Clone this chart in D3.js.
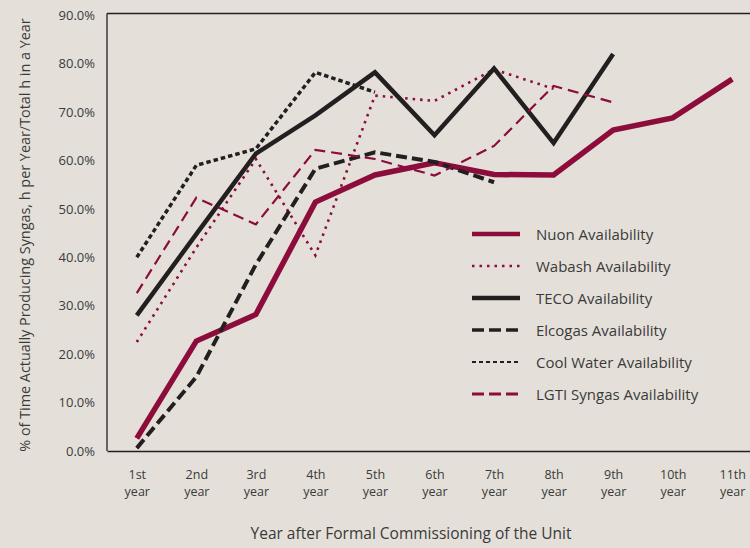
<!DOCTYPE html>
<html>
<head>
<meta charset="utf-8">
<script src="https://cdn.jsdelivr.net/npm/d3@7"></script>
<style>
  html, body { margin: 0; padding: 0; background: #e4e0d9; }
  #chart { width: 750px; height: 548px; }
  text { font-family: 'Open Sans', sans-serif; fill: #3a3a3a; }
</style>
</head>
<body>
<div id="chart"></div>
<script>
// values (% availability per year after commissioning)
var years = ['1st', '2nd', '3rd', '4th', '5th', '6th', '7th', '8th', '9th', '10th', '11th'];
var yTicks = [0, 10, 20, 30, 40, 50, 60, 70, 80, 90];

var nuon = [2.6, 22.7, 28.2, 51.4, 57.0, 59.5, 57.1, 57.0, 66.3, 68.8, 76.8];
var wabash = [22.5, 42.0, 60.3, 40.4, 73.4, 72.3, 78.8, 74.8];
var teco = [28.0, 44.8, 61.4, 69.3, 78.2, 65.2, 79.0, 63.6, 82.0];
var elcogas = [0.6, 15.3, 38.5, 58.3, 61.7, 59.7, 55.5];
var coolWater = [40.0, 59.0, 62.4, 78.2, 74.1];
var lgti = [32.6, 52.3, 46.8, 62.2, 60.3, 56.9, 63.0, 75.4, 72.0];

var names = ['Nuon Availability', 'Wabash Availability', 'TECO Availability',
  'Elcogas Availability', 'Cool Water Availability', 'LGTI Syngas Availability'];
var values = [nuon, wabash, teco, elcogas, coolWater, lgti];

var crimson = '#8c0c3c';
var dark = '#231f20';

// line styles, same order as names
var styles = [
  { color: crimson, width: 5.5, dash: null, legendWidth: 4.5, legendDash: null },
  { color: crimson, width: 2.6, dash: '2.5,5', legendWidth: 2.4, legendDash: '2.5,5' },
  { color: dark, width: 4.5, dash: null, legendWidth: 4.5, legendDash: null },
  { color: dark, width: 4, dash: '11,5', legendWidth: 3.5, legendDash: '12,5' },
  { color: dark, width: 3.5, dash: '4.5,3', legendWidth: 2.2, legendDash: '4,3' },
  { color: crimson, width: 2.2, dash: '11,6', legendWidth: 3, legendDash: '12,5' }
];

var series = names.map(function(name, i) {
  return {
    name: name,
    style: styles[i],
    points: values[i].map(function(v, j) { return { year: years[j], value: v }; })
  };
});

var margin = { top: 13.5, left: 107, bottom: 97 };
var W = 750, H = 548;
var plotRight = 762;

var svg = d3.select('#chart').append('svg')
  .attr('width', W)
  .attr('height', H);

var x = d3.scalePoint()
  .domain(years)
  .range([margin.left, plotRight])
  .padding(0.5);

var y = d3.scaleLinear()
  .domain([0, 90])
  .range([H - margin.bottom, 15.2]);

// frame: top line
svg.append('line')
  .attr('x1', margin.left).attr('x2', plotRight)
  .attr('y1', margin.top).attr('y2', margin.top)
  .attr('stroke', dark).attr('stroke-width', 1.3);

// y axis
var yAxis = svg.append('g')
  .attr('transform', 'translate(' + margin.left + ',0)')
  .call(d3.axisLeft(y).tickValues(yTicks).tickSize(0).tickSizeOuter(0).tickPadding(12)
    .tickFormat(function(d) { return d.toFixed(1) + '%'; }));
yAxis.select('.domain')
  .attr('d', 'M0,' + margin.top + 'V' + y(0))
  .attr('stroke', dark).attr('stroke-width', 1.3);
yAxis.selectAll('text')
  .style('font-family', "'Open Sans', sans-serif")
  .style('font-size', '13px')
  .attr('fill', '#3a3a3a');

// x axis: ordinal on first line, "year" below it
var xAxis = svg.append('g')
  .attr('transform', 'translate(0,' + y(0) + ')')
  .call(d3.axisBottom(x).tickSize(0).tickSizeOuter(0));
xAxis.select('.domain').attr('stroke', dark).attr('stroke-width', 1.3);
xAxis.selectAll('.tick text')
  .style('font-family', "'Open Sans', sans-serif")
  .style('font-size', '12.5px')
  .attr('fill', '#3a3a3a')
  .attr('y', 27.5)
  .attr('dy', null);
xAxis.selectAll('.tick')
  .append('text')
  .attr('y', 44.8)
  .attr('text-anchor', 'middle')
  .style('font-size', '12.5px')
  .text('year');

// axis titles
svg.append('text')
  .attr('x', 411)
  .attr('y', 539)
  .attr('text-anchor', 'middle')
  .style('font-size', '15.5px')
  .text('Year after Formal Commissioning of the Unit');

svg.append('text')
  .attr('transform', 'translate(29.5,235) rotate(-90)')
  .attr('text-anchor', 'middle')
  .style('font-size', '14.4px')
  .text('% of Time Actually Producing Syngas, h per Year/Total h in a Year');

// lines
var line = d3.line()
  .x(function(d) { return x(d.year); })
  .y(function(d) { return y(d.value); });

svg.selectAll('.series')
  .data(series)
  .enter()
  .append('path')
    .attr('class', 'series')
    .attr('d', function(d) { return line(d.points); })
    .attr('fill', 'none')
    .attr('stroke', function(d) { return d.style.color; })
    .attr('stroke-width', function(d) { return d.style.width; })
    .attr('stroke-dasharray', function(d) { return d.style.dash; });

// legend
var legend = svg.append('g')
  .attr('transform', 'translate(472,234)');

var item = legend.selectAll('.item')
  .data(series)
  .enter()
  .append('g')
    .attr('class', 'item')
    .attr('transform', function(d, i) { return 'translate(0,' + (i * 32) + ')'; });

item.append('line')
  .attr('x1', 0).attr('x2', 48)
  .attr('stroke', function(d) { return d.style.color; })
  .attr('stroke-width', function(d) { return d.style.legendWidth; })
  .attr('stroke-dasharray', function(d) { return d.style.legendDash; });

item.append('text')
  .attr('x', 64)
  .attr('y', 5.5)
  .style('font-size', '15px')
  .text(function(d) { return d.name; });
</script>
</body>
</html>
